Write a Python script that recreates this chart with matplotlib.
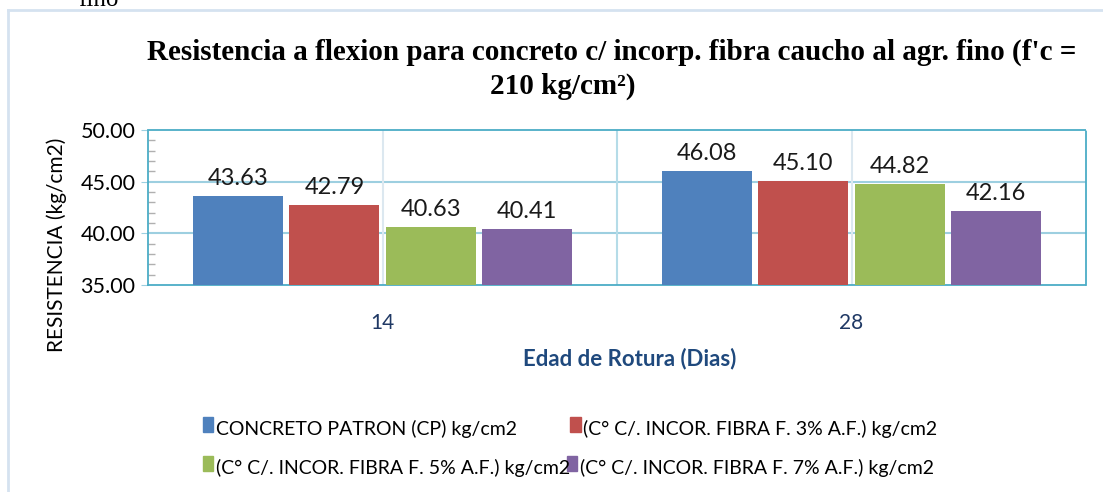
import numpy as np
import matplotlib
matplotlib.use('Agg')
import matplotlib.pyplot as plt
from matplotlib.lines import Line2D
from matplotlib.patches import Rectangle

# data
edades = ['14', '28']
series = [
    'CONCRETO PATRON (CP) kg/cm2',
    '(C° C/. INCOR. FIBRA F. 3% A.F.) kg/cm2',
    '(C° C/. INCOR. FIBRA F. 5% A.F.) kg/cm2',
    '(C° C/. INCOR. FIBRA F. 7% A.F.) kg/cm2',
]
cp = [43.63, 46.08]
fibra_3 = [42.79, 45.10]
fibra_5 = [40.63, 44.82]
fibra_7 = [40.41, 42.16]
colores = ['#4F81BD', '#C0504D', '#9BBB59', '#8064A2']

sans = ['Lato', 'DejaVu Sans']
serif = ['Liberation Serif', 'DejaVu Serif']

fig = plt.figure(figsize=(11.03, 4.92), dpi=100)
ax = fig.add_axes([0.1342, 0.4207, 0.8504, 0.3151])

x = np.arange(len(edades))
step = 0.2053
width = 0.192
valores = [cp, fibra_3, fibra_5, fibra_7]
for i, (vals, col) in enumerate(zip(valores, colores)):
    pos = x + (i - 1.5) * step
    ax.bar(pos, np.array(vals) - 35, width=width, bottom=35, color=col, zorder=3)
    for xb, v in zip(pos, vals):
        ax.annotate(f'{v:.2f}', (xb, v), xytext=(0, 5), textcoords='offset points',
                    ha='center', va='bottom', fontsize=17, family=sans, color='#1a1a1a')

ax.set_ylim(35, 50)
ax.set_xlim(-0.5, 1.5)
ax.set_yticks([35, 40, 45, 50])
ax.set_yticklabels([f'{t:.2f}' for t in [35, 40, 45, 50]], family=sans, fontsize=15.5)
ax.set_yticks(np.arange(35, 51, 1), minor=True)
ax.tick_params(axis='y', which='minor', direction='in', length=5, color='#b0b0b0', width=1)
ax.tick_params(axis='y', which='major', direction='out', length=5, color='#9DCFE0', pad=4)
ax.set_xticks(x)
ax.set_xticklabels(edades, family=sans, fontsize=15, color='#1F3864')
ax.tick_params(axis='x', length=0, pad=20)

# grid
for yv in [40, 45]:
    ax.axhline(yv, color='#9DCFE0', lw=1.5, zorder=1)
for xv in x:
    ax.axvline(xv, color='#DCE8F0', lw=1.5, zorder=1)
ax.axvline(0.5, color='#B5DCE8', lw=1.5, zorder=1)

for s in ax.spines.values():
    s.set_color('#4BACC6')
    s.set_linestyle((0, (1, 1)))
    s.set_linewidth(1.3)

ax.set_ylabel('RESISTENCIA (kg/cm2)', family=sans, fontsize=15, va='center')
ax.yaxis.set_label_coords(-0.097, 0.26)
ax.set_xlabel('Edad de Rotura (Dias)', family=sans, fontsize=16, fontweight='bold',
              color='#1F497D')
ax.xaxis.set_label_coords(0.514, -0.405)

# title
fig.text(0.555, 0.893,
         "Resistencia a flexion para concreto c/ incorp. fibra caucho al agr. fino (f'c =",
         ha='center', va='center', family=serif, fontsize=21, fontweight='bold')
fig.text(0.51, 0.825, "210 kg/cm²)", ha='center', va='center', family=serif,
         fontsize=21, fontweight='bold')

# text cut at the top of the page
fig.text(0.071, 0.987, 'fino', ha='left', va='baseline', family=serif, fontsize=18)

# outer frame
fig.add_artist(Line2D([0.0068, 0.0068], [0, 0.98], color='#D5E2F0', lw=2))
fig.add_artist(Line2D([0.0068, 1.0], [0.98, 0.98], color='#D5E2F0', lw=2))

# legend
leg_pos = [(0.184, 0.128), (0.517, 0.128), (0.184, 0.049), (0.514, 0.049)]
for lab, col, (lx, ly) in zip(series, colores, leg_pos):
    fig.add_artist(Rectangle((lx, ly - 0.006), 0.0095, 0.03, color=col,
                             transform=fig.transFigure))
    fig.text(lx + 0.012, ly, lab, ha='left', va='center', family=sans, fontsize=14)

fig.savefig('out.png', dpi=100)
